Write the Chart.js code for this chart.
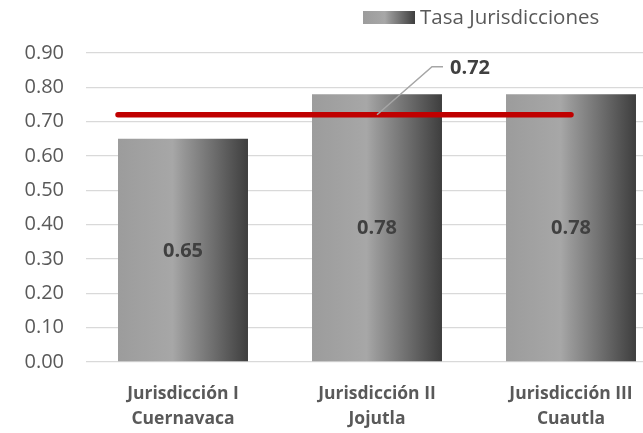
<!DOCTYPE html>
<html>
<head>
<meta charset="utf-8">
<script src="https://cdn.jsdelivr.net/npm/chart.js@4"></script>
<style>
  html, body { margin: 0; padding: 0; background: #fff; overflow: hidden; }
  #wrap { width: 668px; height: 433px; }
</style>
</head>
<body>
<div id="wrap"><canvas id="myChart"></canvas></div>
<script>
const categories = [["Jurisdicción I", "Cuernavaca"], ["Jurisdicción II", "Jojutla"], ["Jurisdicción III", "Cuautla"]];
const tasaValues = [0.65, 0.78, 0.78];
const stateRate = 0.72;
const stateRateSpan = [-0.335, 2.0];   // from left edge of first bar to centre of last bar
const legendLabel = "Tasa Jurisdicciones";

const FONT = "'Open Sans', sans-serif";
const BAR_PCT = 0.67;

function barGradient(ctx, x0, x1) {
    const g = ctx.createLinearGradient(x0, 0, x1, 0);
    g.addColorStop(0, '#9c9c9c');
    g.addColorStop(0.42, '#a7a7a7');
    g.addColorStop(0.5, '#979797');
    g.addColorStop(0.75, '#6b6b6b');
    g.addColorStop(1, '#3e3e3e');
    return g;
}

// labels, legend and the leader line of the state rate
const extras = {
    id: 'extras',
    afterDatasetsDraw(chart) {
        const ctx = chart.ctx;
        const meta = chart.getDatasetMeta(0);
        ctx.save();
        ctx.font = "bold 20px " + FONT;
        ctx.fillStyle = '#404040';
        ctx.textAlign = 'center';
        ctx.textBaseline = 'middle';
        meta.data.forEach((bar, i) => {
            const y = (bar.y + bar.base) / 2;
            ctx.fillText(tasaValues[i].toFixed(2), bar.x, y + 1);
        });

        // leader line
        const ax = chart.scales.x2.getPixelForValue(1);
        const ay = chart.scales.y.getPixelForValue(stateRate);
        ctx.strokeStyle = '#a6a6a6';
        ctx.lineWidth = 1.5;
        ctx.beginPath();
        ctx.moveTo(ax, ay);
        ctx.lineTo(ax + 55, ay - 48);
        ctx.lineTo(ax + 66, ay - 48);
        ctx.stroke();
        ctx.textAlign = 'left';
        ctx.fillText(stateRate.toFixed(2), ax + 73, ay - 47);

        // legend
        const lx = 363, ly = 11;
        ctx.fillStyle = barGradient(ctx, lx, lx + 52);
        ctx.fillRect(lx, ly, 52, 13);
        ctx.font = "20.5px " + FONT;
        ctx.fillStyle = '#595959';
        ctx.fillText(legendLabel, lx + 57, ly + 7);
        ctx.restore();
    }
};

new Chart(document.getElementById('myChart'), {
    type: 'bar',
    data: {
        labels: categories,
        datasets: [
            {
                label: legendLabel,
                data: tasaValues,
                backgroundColor: (c) => {
                    const sx = c.chart.scales.x;
                    if (!sx || c.dataIndex === undefined) return '#a6a6a6';
                    const cx = sx.getPixelForValue(c.dataIndex);
                    const w = (sx.getPixelForValue(1) - sx.getPixelForValue(0)) * BAR_PCT;
                    if (!isFinite(cx) || !isFinite(w) || w <= 0) return '#a6a6a6';
                    return barGradient(c.chart.ctx, cx - w / 2, cx + w / 2);
                },
                categoryPercentage: 1,
                barPercentage: BAR_PCT,
                grouped: false,
                order: 2
            },
            {
                type: 'line',
                label: 'Tasa estatal',
                data: stateRateSpan.map(x => ({ x: x, y: stateRate })),
                xAxisID: 'x2',
                borderColor: '#c00000',
                borderWidth: 5.5,
                borderCapStyle: 'round',
                pointRadius: 0,
                fill: false,
                order: 1
            }
        ]
    },
    options: {
        responsive: true,
        maintainAspectRatio: false,
        animation: false,
        layout: { padding: { top: 53, left: 0, right: 0, bottom: 0 } },
        plugins: {
            legend: { display: false },
            tooltip: { enabled: false }
        },
        scales: {
            x: {
                grid: { display: false },
                border: { display: false },
                ticks: {
                    color: '#595959',
                    font: { family: FONT, size: 17.5, weight: 'bold', lineHeight: 1.42 },
                    padding: 12,
                    maxRotation: 0,
                    autoSkip: false
                },
                afterFit: (s) => { s.height = 71; }
            },
            x2: {
                type: 'linear',
                display: false,
                offset: false,
                min: -0.5,
                max: 2.5
            },
            y: {
                min: 0,
                max: 0.9,
                ticks: {
                    stepSize: 0.1,
                    color: '#595959',
                    font: { family: FONT, size: 20 },
                    padding: 22,
                    callback: (v) => v.toFixed(2)
                },
                grid: { color: '#d9d9d9', lineWidth: 1.3, drawTicks: false },
                border: { display: false },
                afterFit: (s) => { s.width = 86; }
            }
        }
    },
    plugins: [extras]
});
</script>
</body>
</html>
